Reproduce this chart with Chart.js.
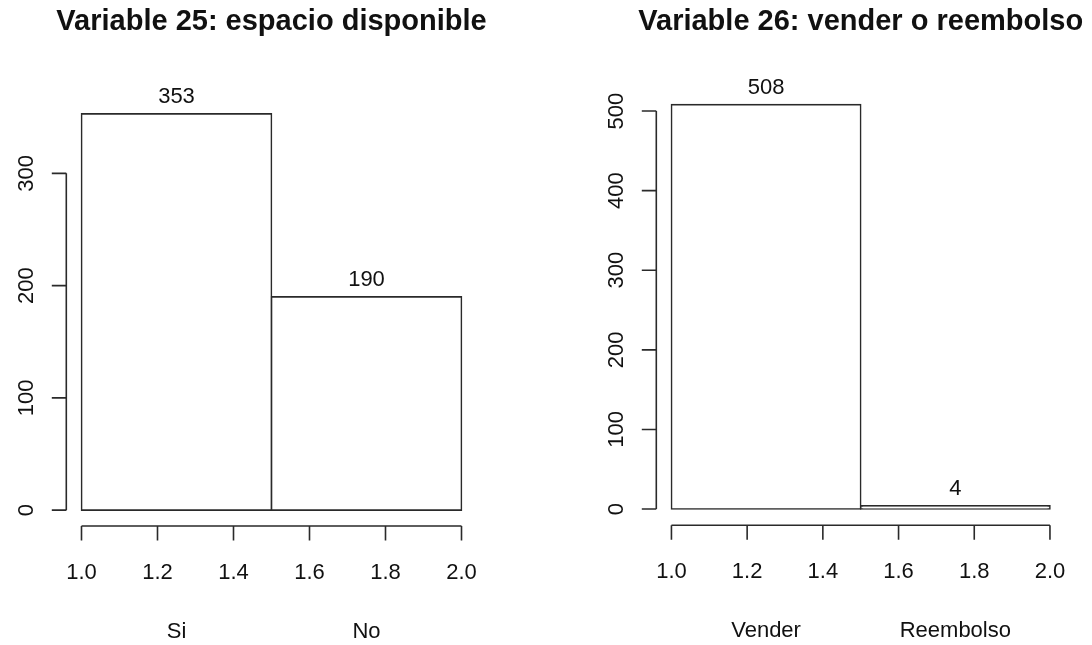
<!DOCTYPE html>
<html>
<head>
<meta charset="utf-8">
<script src="https://cdn.jsdelivr.net/npm/chart.js@4/dist/chart.umd.min.js"></script>
<style>
  html, body { margin: 0; padding: 0; background: #ffffff; }
  #wrap { position: relative; width: 1092px; height: 645px; overflow: hidden; }
  canvas { position: absolute; top: 0; }
  #c25 { left: 0; }
  #c26 { left: 546px; }
</style>
</head>
<body>
<div id="wrap">
  <canvas id="c25" width="546" height="645"></canvas>
  <canvas id="c26" width="546" height="645"></canvas>
</div>
<script>
// Histogram breaks shared by both variables (coded 1 and 2)
const breaks = [1, 1.5, 2];
const xTicks = [1.0, 1.2, 1.4, 1.6, 1.8, 2.0];

// Variable 25: espacio disponible
const title25 = 'Variable 25: espacio disponible';
const categories25 = ['Si', 'No'];
const counts25 = [353, 190];
const yTicks25 = [0, 100, 200, 300];

// Variable 26: vender o reembolso
const title26 = 'Variable 26: vender o reembolso';
const categories26 = ['Vender', 'Reembolso'];
const counts26 = [508, 4];
const yTicks26 = [0, 100, 200, 300, 400, 500];

const FONT = '"Liberation Sans", Arial, sans-serif';
const INK = '#111111';
const LINE = '#2a2a2a';
const LW = 1.6;

// Draws base-graphics style detached axes, labels and title with the chart's scales
const baseAxesPlugin = {
  id: 'baseAxes',
  afterDraw(chart, args, opts) {
    const { ctx, chartArea } = chart;
    const xs = chart.scales.x;
    const ys = chart.scales.y;
    ctx.save();
    ctx.strokeStyle = LINE;
    ctx.lineWidth = LW;
    ctx.fillStyle = INK;

    // title centred over the plot region
    ctx.font = 'bold 29px ' + FONT;
    ctx.textAlign = 'center';
    ctx.textBaseline = 'alphabetic';
    ctx.fillText(opts.title, (chartArea.left + chartArea.right) / 2, 30);

    // y axis
    const ax = chartArea.left;
    const yt = opts.yTicks;
    ctx.beginPath();
    ctx.moveTo(ax, ys.getPixelForValue(yt[0]));
    ctx.lineTo(ax, ys.getPixelForValue(yt[yt.length - 1]));
    yt.forEach(v => {
      const py = ys.getPixelForValue(v);
      ctx.moveTo(ax, py);
      ctx.lineTo(ax - 14.5, py);
    });
    ctx.stroke();
    ctx.font = '22px ' + FONT;
    yt.forEach(v => {
      const py = ys.getPixelForValue(v);
      ctx.save();
      ctx.translate(ax - 33.5, py);
      ctx.rotate(-Math.PI / 2);
      ctx.textAlign = 'center';
      ctx.fillText(String(v), 0, 0);
      ctx.restore();
    });

    // x axis
    const by = chartArea.bottom;
    ctx.beginPath();
    ctx.moveTo(xs.getPixelForValue(xTicks[0]), by);
    ctx.lineTo(xs.getPixelForValue(xTicks[xTicks.length - 1]), by);
    xTicks.forEach(v => {
      const px = xs.getPixelForValue(v);
      ctx.moveTo(px, by);
      ctx.lineTo(px, by + 14.5);
    });
    ctx.stroke();
    ctx.textAlign = 'center';
    xTicks.forEach(v => {
      ctx.fillText(v.toFixed(1), xs.getPixelForValue(v), by + 52.5);
    });

    // category names under each bin
    opts.categories.forEach((name, i) => {
      const mid = (breaks[i] + breaks[i + 1]) / 2;
      ctx.fillText(name, xs.getPixelForValue(mid), by + 111.5);
    });

    // counts above the bars
    opts.counts.forEach((n, i) => {
      const mid = (breaks[i] + breaks[i + 1]) / 2;
      ctx.fillText(String(n), xs.getPixelForValue(mid), ys.getPixelForValue(n) - 10.5);
    });
    ctx.restore();
  }
};

function histogram(canvasId, title, categories, counts, yTicks, padding) {
  const top = Math.max(...counts);
  const data = counts.map((n, i) => ({ x: (breaks[i] + breaks[i + 1]) / 2, y: n }));
  return new Chart(document.getElementById(canvasId), {
    type: 'bar',
    data: {
      datasets: [{
        data: data,
        backgroundColor: '#ffffff',
        borderColor: LINE,
        borderWidth: LW,
        borderSkipped: false,
        // centre the outline on the bin edges so neighbouring bins share one line
        inflateAmount: LW / 2,
        barPercentage: 1,
        categoryPercentage: 1
      }]
    },
    options: {
      responsive: false,
      animation: false,
      devicePixelRatio: 1,
      layout: { padding: padding },
      plugins: {
        legend: { display: false },
        title: { display: false },
        tooltip: { enabled: false },
        baseAxes: { title: title, categories: categories, counts: counts, yTicks: yTicks }
      },
      scales: {
        x: {
          type: 'linear',
          display: false,
          offset: false,
          grid: { offset: false },
          min: breaks[0] - 0.04 * (breaks[breaks.length - 1] - breaks[0]),
          max: breaks[breaks.length - 1] + 0.04 * (breaks[breaks.length - 1] - breaks[0]),
          afterBuildTicks(scale) { scale.ticks = breaks.map(v => ({ value: v })); }
        },
        y: {
          type: 'linear',
          display: false,
          min: -0.04 * top,
          max: 1.04 * top
        }
      }
    },
    plugins: [baseAxesPlugin]
  });
}

histogram('c25', title25, categories25, counts25, yTicks25,
  { left: 66.3, right: 69.3, top: 98, bottom: 119 });
histogram('c26', title26, categories26, counts26, yTicks26,
  { left: 110.3, right: 26.9, top: 88.5, bottom: 119.8 });
</script>
</body>
</html>
